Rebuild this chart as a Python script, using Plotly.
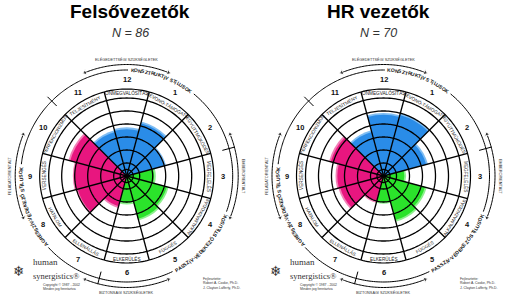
import numpy as np
import plotly.graph_objects as go

W, H = 511, 305

# ---------------- data ----------------
segment_numbers = [1, 2, 3, 4, 5, 6, 7, 8, 9, 10, 11, 12]
segment_labels = ["BEVONÓ-TÁMOGATÓ", "EGYÜTTMŰKÖDÉS", "MEGFELELÉS", "ALKALMAZKODÁS",
                  "FÜGGÉS", "ELKERÜLÉS", "ELLENÁLLÁS", "HATALOM", "VERSENGÉS",
                  "PERFEKCIONIZMUS", "TELJESÍTMÉNY", "ÖNMEGVALÓSÍTÁS"]
segment_group = ["c", "c", "p", "p", "p", "p", "a", "a", "a", "a", "c", "c"]

felso_values = [4.2, 3.0, 2.1, 3.2, 3.4, 2.05, 2.4, 3.9, 4.0, 4.5, 3.5, 3.6]
hr_values = [4.85, 3.4, 1.6, 3.3, 3.5, 2.0, 2.0, 3.45, 3.55, 4.2, 3.5, 4.7]

chart_titles = ["Felsővezetők", "HR vezetők"]
chart_n = ["N = 86", "N = 70"]
grid_levels = [0.5, 1, 2, 3, 4, 5, 6]

style_names = ["KONSZTRUKTÍV STÍLUSOK", "PASSZÍV-VÉDEKEZŐ STÍLUSOK", "AGRESSZÍV-VÉDEKEZŐ STÍLUSOK"]
orient_names = ["ELÉGEDETTSÉGI SZÜKSÉGLETEK", "EMBERORIENTÁLT", "BIZTONSÁGI SZÜKSÉGLETEK", "FELADATORIENTÁLT"]

# ---------------- style ----------------
COL = {"c": "#2A8CE8", "p": "#2BE32B", "a": "#E8167F"}
HALO = {"c": "#7FBDF3", "p": "#8EF08E", "a": "#F27FB6"}
UNIT = 13.0          # px per radial unit
RPX = 125.0          # polar radius in px
RMAX = RPX / UNIT
centers = [(126.7, 176.0), (383.5, 176.0)]
title_x = [130, 378]

# Arial-bold advance widths (em) for the curved captions
BOLD_W = {"A": .722, "B": .722, "C": .722, "D": .722, "E": .667, "É": .667, "F": .611,
          "G": .778, "H": .722, "I": .278, "Í": .278, "J": .556, "K": .722, "L": .611,
          "M": .833, "N": .722, "O": .778, "Ő": .778, "P": .667, "R": .722, "S": .667,
          "T": .611, "U": .722, "V": .667, "Z": .611, "-": .333, " ": .278}

fig = go.Figure()
annotations = []


def px2paper(x, y):
    return x / W, 1 - y / H


def add_text(x, y, text, size, family="Liberation Sans", color="#111", angle=0,
             xanchor="center", yanchor="middle"):
    px, py = px2paper(x, y)
    annotations.append(dict(x=px, y=py, xref="paper", yref="paper", text=text,
                            showarrow=False, textangle=angle, xanchor=xanchor, yanchor=yanchor,
                            font=dict(family=family, size=size, color=color)))


def arc_text(text, cx, cy, r_px, center_deg, size, clockwise=True):
    widths = [BOLD_W.get(c, 0.7) * size for c in text]
    total = sum(widths) / r_px * 180 / np.pi
    a = center_deg - total / 2 if clockwise else center_deg + total / 2
    for ch, w in zip(text, widths):
        d = w / r_px * 180 / np.pi
        mid = a + d / 2 if clockwise else a - d / 2
        a = a + d if clockwise else a - d
        if ch == " ":
            continue
        rad = np.radians(mid)
        x = cx + r_px * np.sin(rad)
        y = cy - r_px * np.cos(rad)
        ang = mid if clockwise else mid - 180
        ang = (ang + 180) % 360 - 180
        add_text(x, y, f"<b>{ch}</b>", size, angle=ang)
    return total


thetas = [(30 * n) % 360 for n in segment_numbers]

for k, (vals, (cx, cy)) in enumerate(zip([felso_values, hr_values], centers)):
    sp = "polar" if k == 0 else "polar2"
    # halo
    fig.add_trace(go.Barpolar(r=[v + 0.14 for v in vals], theta=thetas, width=30,
                              marker=dict(color=[HALO[g] for g in segment_group], line_width=0),
                              subplot=sp, hoverinfo="skip", showlegend=False))
    fig.add_trace(go.Barpolar(r=vals, theta=thetas, width=30,
                              marker=dict(color=[COL[g] for g in segment_group], line_width=0),
                              subplot=sp, showlegend=False))
    circ = np.linspace(0, 360, 241)
    # grid circles
    for lv in grid_levels:
        fig.add_trace(go.Scatterpolar(r=[lv] * len(circ), theta=circ, mode="lines",
                                      line=dict(color="#000", width=1.3), subplot=sp,
                                      hoverinfo="skip", showlegend=False))
    # label ring outer
    ring_out = 87 / UNIT
    fig.add_trace(go.Scatterpolar(r=[ring_out] * len(circ), theta=circ, mode="lines",
                                  line=dict(color="#000", width=1.2), subplot=sp,
                                  hoverinfo="skip", showlegend=False))
    # spokes
    rs, ts = [], []
    for t in thetas:
        b = t + 15
        rs += [0, ring_out, None]
        ts += [b, b, None]
    fig.add_trace(go.Scatterpolar(r=rs, theta=ts, mode="lines",
                                  line=dict(color="#000", width=1.3), subplot=sp,
                                  hoverinfo="skip", showlegend=False))
    # segment labels in ring & numbers
    for n, lab, t in zip(segment_numbers, segment_labels, thetas):
        rad = np.radians(t)
        rr = 82.5
        ang = t if (t <= 90 or t >= 270) else t - 180
        ang = (ang + 180) % 360 - 180
        add_text(cx + rr * np.sin(rad), cy - rr * np.cos(rad), lab, 4.7, color="#222", angle=ang)
        rr = 96.5
        add_text(cx + rr * np.sin(rad), cy - rr * np.cos(rad), f"<b>{n}</b>", 7.5)
    # outer style circle with text gaps
    R_OUT = 106.0
    spans = []
    for name, cdeg, cw in zip(style_names, [20, 132, 252], [True, False, True]):
        tot = arc_text(name, cx, cy, R_OUT, cdeg, 5.0, clockwise=cw)
        spans.append((cdeg - tot / 2 - 1.5, cdeg + tot / 2 + 1.5))
    edges = sorted(spans)
    segs = []
    start = -45
    for a0, b0 in edges:
        if a0 > start:
            segs.append((start, a0))
        start = b0
    segs.append((start, 315))
    rs, ts = [], []
    for a0, b0 in segs:
        tt = np.linspace(a0, b0, 60)
        rs += [R_OUT / UNIT] * len(tt) + [None]
        ts += list(tt) + [None]
    # ticks
    for tk in [-45, 75, 195]:
        rs += [99 / UNIT, 112 / UNIT, None]
        ts += [tk, tk, None]
    fig.add_trace(go.Scatterpolar(r=rs, theta=ts, mode="lines",
                                  line=dict(color="#000", width=1.0), subplot=sp,
                                  hoverinfo="skip", showlegend=False))
    # orientation arrows
    R_AR = 111.5
    for name, cdeg, half, ang in zip(orient_names, [0, 90, 180, 270], [22, 22, 22, 22], [0, 90, 0, -90]):
        for sgn in [-1, 1]:
            tt = np.linspace(cdeg, cdeg + sgn * half, 30)
            sizes = [0] * 29 + [5]
            fig.add_trace(go.Scatterpolar(r=[R_AR / UNIT] * 30, theta=tt, mode="lines+markers",
                                          line=dict(color="#000", width=1.0),
                                          marker=dict(symbol="triangle-up", size=sizes, color="#000",
                                                      angleref="previous"),
                                          subplot=sp, hoverinfo="skip", showlegend=False))
        rr = 116.5
        rad = np.radians(cdeg)
        add_text(cx + rr * np.sin(rad), cy - rr * np.cos(rad), name, 3.8, color="#333", angle=ang)

    # titles
    add_text(title_x[k], 12, f"<b>{chart_titles[k]}</b>", 19, color="#000")
    add_text(title_x[k], 33, f"<i>{chart_n[k]}</i>", 12.5, color="#333")
    # logo + credits
    off = cx - centers[0][0]
    add_text(19 + off, 271, "❄", 14, family="DejaVu Sans", color="#333")
    add_text(31 + off, 269, "human", 9, family="Liberation Serif", color="#333",
             xanchor="left", yanchor="bottom")
    add_text(31 + off, 269, "synergistics®", 8.5, family="Liberation Serif", color="#333",
             xanchor="left", yanchor="top")
    add_text(41 + off, 284.5, "Copyright © 1987 - 2002", 3.4, color="#333", xanchor="left")
    add_text(41 + off, 289, "Minden jog fenntartva", 3.4, color="#333", xanchor="left")
    add_text(201 + off, 278.5, "Fejlesztette:", 3.4, color="#333", xanchor="left")
    add_text(201 + off, 283.2, "Robert A. Cooke, Ph.D.", 3.4, color="#333", xanchor="left")
    add_text(201 + off, 287.9, "J. Clayton Lafferty, Ph.D.", 3.4, color="#333", xanchor="left")


def polar_layout(cx, cy):
    return dict(domain=dict(x=[(cx - RPX) / W, (cx + RPX) / W],
                            y=[1 - (cy + RPX) / H, 1 - (cy - RPX) / H]),
                bgcolor="rgba(0,0,0,0)", bargap=0, hole=0, barmode="overlay",
                radialaxis=dict(range=[0, RMAX], autorange=False, showline=False,
                                showgrid=False, showticklabels=False, ticks=""),
                angularaxis=dict(showline=False, showgrid=False, showticklabels=False, ticks="",
                                 rotation=90, direction="clockwise"))


fig.update_layout(
    width=W, height=H, margin=dict(l=0, r=0, t=0, b=0),
    paper_bgcolor="white", plot_bgcolor="white", showlegend=False,
    polar=polar_layout(*centers[0]), polar2=polar_layout(*centers[1]),
    annotations=annotations,
)
fig.write_html("out.html")
